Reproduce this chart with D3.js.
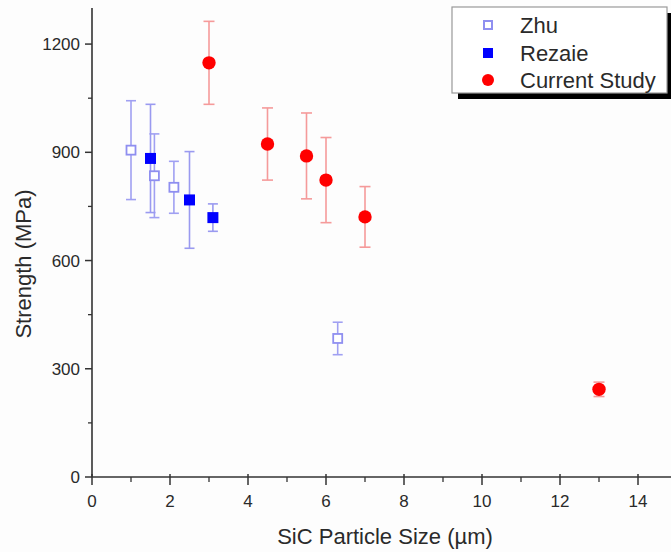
<!DOCTYPE html>
<html>
<head>
<meta charset="utf-8">
<script src="https://cdn.jsdelivr.net/npm/d3@7/dist/d3.min.js"></script>
<style>
html,body{margin:0;padding:0;background:#fff;}
svg{display:block;}
text{font-family:"Liberation Sans",Arial,sans-serif;fill:#2a2a2a;}
</style>
</head>
<body>
<svg id="chart" width="671" height="552"></svg>
<script>
// ---- data ----
const zhuX = [1.0, 1.6, 2.1, 6.3];
const zhuY = [906, 835, 803, 384];
const zhuErr = [137, 116, 72, 45];

const rezaieX = [1.5, 2.5, 3.1];
const rezaieY = [883, 768, 719];
const rezaieErr = [150, 134, 38];

const currentX = [3, 4.5, 5.5, 6, 7, 13];
const currentY = [1148, 923, 890, 823, 721, 243];
const currentErr = [115, 100, 119, 118, 84, 20];

const xTicks = [0, 2, 4, 6, 8, 10, 12, 14];
const xMinor = [1, 3, 5, 7, 9, 11, 13];
const yTicks = [0, 300, 600, 900, 1200];
const yMinor = [150, 450, 750, 1050];
const legendLabels = ["Zhu", "Rezaie", "Current Study"];

// ---- layout ----
const svg = d3.select("#chart");
const x = d3.scaleLinear().domain([0, 15]).range([92, 677]);
const y = d3.scaleLinear().domain([0, 1300]).range([477, 8]);

svg.append("rect").attr("x", 0).attr("y", 0).attr("width", 671).attr("height", 552).attr("fill", "#fdfdfd");

const axisColor = "#333";

// x axis
const xAxis = svg.append("g").attr("transform", `translate(0,${y(0)})`);
xAxis.append("line").attr("x1", x(0)).attr("x2", 671).attr("y1", 0).attr("y2", 0)
  .attr("stroke", axisColor).attr("stroke-width", 1.6);
xAxis.selectAll("line.maj").data(xTicks).enter().append("line")
  .attr("x1", d => x(d)).attr("x2", d => x(d)).attr("y1", -3).attr("y2", 8)
  .attr("stroke", axisColor).attr("stroke-width", 1.5);
xAxis.selectAll("line.min").data(xMinor).enter().append("line")
  .attr("x1", d => x(d)).attr("x2", d => x(d)).attr("y1", 0).attr("y2", 5)
  .attr("stroke", axisColor).attr("stroke-width", 1.3);
xAxis.selectAll("text").data(xTicks).enter().append("text")
  .attr("x", d => x(d)).attr("y", 30).attr("text-anchor", "middle")
  .attr("font-size", 17).attr("fill", "#3a3a3a").text(d => d);

// y axis
const yAxis = svg.append("g").attr("transform", `translate(${x(0)},0)`);
yAxis.append("line").attr("x1", 0).attr("x2", 0).attr("y1", y(0)).attr("y2", y(1300))
  .attr("stroke", axisColor).attr("stroke-width", 1.6);
yAxis.selectAll("line.maj").data(yTicks).enter().append("line")
  .attr("x1", -7).attr("x2", 0).attr("y1", d => y(d)).attr("y2", d => y(d))
  .attr("stroke", axisColor).attr("stroke-width", 1.5);
yAxis.selectAll("line.min").data(yMinor).enter().append("line")
  .attr("x1", -4).attr("x2", 0).attr("y1", d => y(d)).attr("y2", d => y(d))
  .attr("stroke", axisColor).attr("stroke-width", 1.3);
yAxis.selectAll("text").data(yTicks).enter().append("text")
  .attr("x", -12).attr("y", d => y(d) + 6).attr("text-anchor", "end")
  .attr("font-size", 17).attr("fill", "#3a3a3a").text(d => d);

// axis titles
svg.append("text").attr("x", 385).attr("y", 544).attr("text-anchor", "middle")
  .attr("font-size", 22).text("SiC Particle Size (\u00b5m)");
svg.append("text").attr("transform", "translate(31,264) rotate(-90)")
  .attr("text-anchor", "middle").attr("font-size", 22).text("Strength (MPa)");

// ---- series ----
function errorBars(xs, ys, es, color, capW) {
  const g = svg.append("g");
  const idx = d3.range(xs.length);
  g.selectAll("line.v").data(idx).enter().append("line")
    .attr("x1", i => x(xs[i])).attr("x2", i => x(xs[i]))
    .attr("y1", i => y(ys[i] - es[i])).attr("y2", i => y(ys[i] + es[i]))
    .attr("stroke", color).attr("stroke-width", 1.6);
  [-1, 1].forEach(s => {
    g.selectAll("line.c" + (s > 0 ? "t" : "b")).data(idx).enter().append("line")
      .attr("x1", i => x(xs[i]) - capW / 2).attr("x2", i => x(xs[i]) + capW / 2)
      .attr("y1", i => y(ys[i] + s * es[i])).attr("y2", i => y(ys[i] + s * es[i]))
      .attr("stroke", color).attr("stroke-width", 1.6);
  });
}

const zhuColor = "#8f8ff0";
const rezColor = "#0000ff";
const curColor = "#ff0000";

errorBars(zhuX, zhuY, zhuErr, "#a0a0f2", 10);
errorBars(rezaieX, rezaieY, rezaieErr, "#9a9af0", 10);
errorBars(currentX, currentY, currentErr, "#f59a9a", 11);

const sq = 11;
svg.append("g").selectAll("rect").data(d3.range(zhuX.length)).enter().append("rect")
  .attr("x", i => x(zhuX[i]) - sq / 2 + 1).attr("y", i => y(zhuY[i]) - sq / 2 + 1)
  .attr("width", sq - 2).attr("height", sq - 2)
  .attr("fill", "#fff").attr("stroke", zhuColor).attr("stroke-width", 1.8);
svg.append("g").selectAll("rect").data(d3.range(rezaieX.length)).enter().append("rect")
  .attr("x", i => x(rezaieX[i]) - sq / 2).attr("y", i => y(rezaieY[i]) - sq / 2)
  .attr("width", sq).attr("height", sq).attr("fill", rezColor);
svg.append("g").selectAll("circle").data(d3.range(currentX.length)).enter().append("circle")
  .attr("cx", i => x(currentX[i])).attr("cy", i => y(currentY[i])).attr("r", 6.7)
  .attr("fill", curColor);

// ---- legend ----
const lg = svg.append("g");
lg.append("rect").attr("x", 458).attr("y", 13).attr("width", 216).attr("height", 86).attr("fill", "#000");
lg.append("rect").attr("x", 452).attr("y", 7).attr("width", 215).attr("height", 86)
  .attr("fill", "#fff").attr("stroke", "#999").attr("stroke-width", 1.2);
const rowsY = [25, 53, 80];
legendLabels.forEach((lab, i) => {
  const cy = rowsY[i];
  if (i === 0) {
    lg.append("rect").attr("x", 484).attr("y", cy - 4).attr("width", 8).attr("height", 8)
      .attr("fill", "#fff").attr("stroke", zhuColor).attr("stroke-width", 2);
  } else if (i === 1) {
    lg.append("rect").attr("x", 483).attr("y", cy - 5).attr("width", 10).attr("height", 10).attr("fill", rezColor);
  } else {
    lg.append("circle").attr("cx", 488).attr("cy", cy).attr("r", 6).attr("fill", curColor);
  }
  lg.append("text").attr("x", 520).attr("y", cy + 8).attr("font-size", 22).text(lab);
});
</script>
</body>
</html>
